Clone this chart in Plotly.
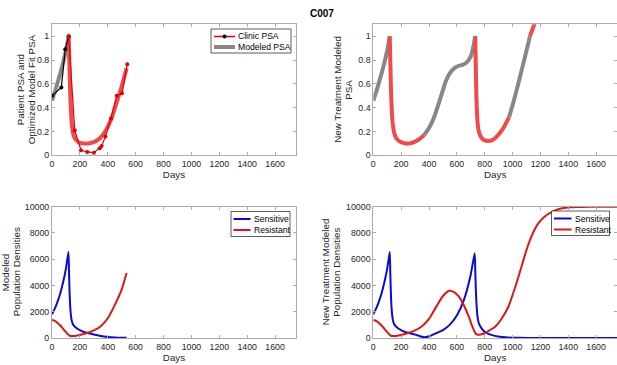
import plotly.graph_objects as go

# ---------------- data ----------------
# Top-left: clinic PSA (pre-treatment black, on-treatment red)
clinic_pre_days = [0, 67, 95, 120]
clinic_pre_psa = [0.50, 0.57, 0.89, 1.0]
clinic_tx_days = [120, 163, 208, 253, 301, 342, 356, 383, 423, 464, 502, 540]
clinic_tx_psa = [1.0, 0.21, 0.042, 0.028, 0.022, 0.059, 0.078, 0.157, 0.31, 0.50, 0.52, 0.765]

# Top-left: modeled PSA fit
fit_off_days = [0, 20, 40, 60, 80, 100, 120]
fit_off_psa = [0.46, 0.53, 0.61, 0.69, 0.78, 0.88, 1.0]
fit_on_days = [120, 124, 128, 132, 136, 140, 145, 150, 160, 175, 200, 230, 260, 300, 340, 370, 400, 430, 460, 500, 535]
fit_on_psa = [1.0, 0.8, 0.62, 0.48, 0.37, 0.29, 0.23, 0.19, 0.15, 0.125, 0.105, 0.10, 0.10, 0.11, 0.14, 0.18, 0.24, 0.32, 0.43, 0.58, 0.73]

# Top-right: new treatment modeled PSA, segments (off = gray, on = red)
nt_seg1_days = [0, 20, 40, 60, 80, 100, 118]
nt_seg1_psa = [0.46, 0.53, 0.61, 0.69, 0.78, 0.88, 1.0]
nt_seg2_days = [118, 122, 126, 130, 135, 140, 150, 160, 175, 200, 230, 260, 300, 340, 365]
nt_seg2_psa = [1.0, 0.8, 0.6, 0.45, 0.33, 0.26, 0.19, 0.155, 0.13, 0.11, 0.10, 0.10, 0.115, 0.145, 0.17]
nt_seg3_days = [365, 400, 430, 460, 490, 520, 550, 580, 610, 640, 670, 700, 720, 732]
nt_seg3_psa = [0.17, 0.23, 0.30, 0.40, 0.51, 0.62, 0.69, 0.73, 0.75, 0.76, 0.78, 0.83, 0.92, 1.0]
nt_seg4_days = [732, 736, 740, 745, 750, 760, 775, 800, 825, 850, 880, 910, 940, 975]
nt_seg4_psa = [1.0, 0.75, 0.5, 0.35, 0.26, 0.19, 0.15, 0.125, 0.12, 0.125, 0.15, 0.19, 0.24, 0.32]
nt_seg5_days = [975, 1000, 1030, 1060, 1090, 1125]
nt_seg5_psa = [0.32, 0.42, 0.55, 0.69, 0.83, 1.0]
nt_seg6_days = [1125, 1150, 1175]
nt_seg6_psa = [1.0, 1.08, 1.16]

# Bottom-left: modeled population densities
pop_days_s = [0, 20, 40, 60, 80, 100, 118, 122, 126, 130, 135, 140, 150, 165, 180, 200, 225, 250, 300, 350, 400, 450, 500, 535]
pop_sens = [1800, 2230, 2770, 3430, 4260, 5280, 6550, 5000, 3500, 2500, 1800, 1400, 1050, 860, 720, 600, 480, 400, 260, 150, 80, 40, 20, 10]
pop_days_r = [0, 20, 40, 60, 80, 100, 120, 130, 150, 175, 200, 250, 300, 350, 400, 450, 500, 535]
pop_res = [1370, 1300, 1150, 950, 700, 450, 220, 150, 150, 180, 230, 380, 580, 900, 1500, 2500, 3700, 4950]

# Bottom-right: new treatment modeled population densities
nt_days_s = [0, 20, 40, 60, 80, 100, 118, 122, 126, 130, 135, 140, 150, 165, 180, 200, 225, 250, 300, 340, 365,
             400, 450, 500, 550, 600, 650, 700, 728, 732, 736, 740, 745, 750, 760, 780, 800, 830, 860, 900, 950,
             1000, 1100, 1200, 1750]
nt_sens = [1800, 2230, 2770, 3430, 4260, 5280, 6550, 5000, 3500, 2500, 1800, 1400, 1050, 860, 720, 600, 480, 400, 260, 120, 50,
           130, 360, 605, 1020, 1710, 2880, 4840, 6450, 5200, 3800, 2800, 2000, 1500, 1050, 700, 480, 300, 200, 110, 50,
           20, 5, 0, 0]
nt_days_r = [0, 20, 40, 60, 80, 100, 120, 130, 150, 175, 200, 250, 300, 350, 400, 450, 500, 544, 580, 615, 650, 686,
             710, 733, 750, 770, 800, 830, 875, 920, 970, 1020, 1064, 1100, 1135, 1180, 1229, 1290, 1348, 1400, 1466,
             1550, 1650, 1750]
nt_res = [1370, 1300, 1150, 950, 700, 450, 220, 150, 150, 180, 230, 380, 580, 900, 1450, 2350, 3200, 3600, 3500, 3150,
          2500, 1620, 900, 360, 250, 270, 360, 550, 860, 1450, 2380, 3900, 5430, 6700, 7720, 8650, 9240, 9650, 9870,
          9940, 9970, 9990, 10000, 10000]

x_ticks = [0, 200, 400, 600, 800, 1000, 1200, 1400, 1600]
psa_ticks = [0, 0.2, 0.4, 0.6, 0.8, 1]
psa_tick_labels = ["0", "0.2", "0.4", "0.6", "0.8", "1"]
pop_ticks = [0, 2000, 4000, 6000, 8000, 10000]
pop_tick_labels = ["0", "2000", "4000", "6000", "8000", "10000"]

legend_psa = ["Clinic PSA", "Modeled PSA"]
legend_pop = ["Sensitive", "Resistant"]
y_titles = [["Patient PSA and", "Optimized Model Fit PSA"],
            ["New Treatment Modeled", "PSA"],
            ["Modeled", "Population Densities"],
            ["New Treatment Modeled", "Population Densities"]]

# ---------------- styles ----------------
GRAY = "#878787"
FIT_RED = "#f24a4a"
RED = "#e60000"
BLUE = "#0a0ad8"
POP_RED = "#e01515"
FONT = "Liberation Sans, Arial, Helvetica, sans-serif"
TXT = "#262626"

fig = go.Figure()

def add(x, y, xa, ya, color, width):
    fig.add_trace(go.Scatter(x=x, y=y, xaxis=xa, yaxis=ya, mode="lines",
                             line=dict(color=color, width=width, shape="spline", smoothing=0.5),
                             showlegend=False, hoverinfo="skip"))

# Top-left
add(fit_off_days, fit_off_psa, "x", "y", GRAY, 4)
add(fit_on_days, fit_on_psa, "x", "y", FIT_RED, 4)
fig.add_trace(go.Scatter(x=clinic_pre_days, y=clinic_pre_psa, xaxis="x", yaxis="y", mode="lines+markers",
                         line=dict(color="black", width=1.2), marker=dict(color="black", size=4),
                         showlegend=False, hoverinfo="skip"))
fig.add_trace(go.Scatter(x=clinic_tx_days, y=clinic_tx_psa, xaxis="x", yaxis="y", mode="lines+markers",
                         line=dict(color=RED, width=1.2), marker=dict(color=RED, size=4),
                         showlegend=False, hoverinfo="skip"))

# Top-right
for d, v, c in [(nt_seg1_days, nt_seg1_psa, GRAY), (nt_seg2_days, nt_seg2_psa, FIT_RED),
                (nt_seg3_days, nt_seg3_psa, GRAY), (nt_seg4_days, nt_seg4_psa, FIT_RED),
                (nt_seg5_days, nt_seg5_psa, GRAY), (nt_seg6_days, nt_seg6_psa, FIT_RED)]:
    add(d, v, "x2", "y2", c, 4)

# Bottom-left
add(pop_days_s, pop_sens, "x3", "y3", BLUE, 2)
add(pop_days_r, pop_res, "x3", "y3", POP_RED, 2)

# Bottom-right
add(nt_days_s, nt_sens, "x4", "y4", BLUE, 2)
add(nt_days_r, nt_res, "x4", "y4", POP_RED, 2)

W, H = 617, 365
def px_x(p): return p / W
def px_y(p): return 1 - p / H

left_dom = [px_x(52), px_x(296)]
right_dom = [px_x(373.3), 1.0]
top_dom = [px_y(155.3), px_y(24.3)]
bot_dom = [px_y(338), px_y(206.7)]

axis_common = dict(showline=True, linecolor="#ababab", linewidth=1, mirror="ticks", ticks="inside",
                   ticklen=3, tickcolor="#ababab", showgrid=False, zeroline=False, automargin=False,
                   tickfont=dict(family=FONT, size=8.8, color=TXT),
                   title_font=dict(family=FONT, size=9.8, color=TXT))

def xax(dom, anchor):
    return dict(axis_common, domain=dom, anchor=anchor, range=[0, 1750], tickvals=x_ticks,
                ticktext=[str(t) for t in x_ticks], title=dict(text="Days", standoff=0))

def yax(dom, anchor, rng, ticks, labels):
    return dict(axis_common, domain=dom, anchor=anchor, range=rng, tickvals=ticks, ticktext=labels)

# ---------- legends drawn as shapes + text ----------
shapes = []
annotations = []

def legend_box(x0, y0, x1, y1):
    shapes.append(dict(type="rect", xref="paper", yref="paper", x0=px_x(x0), x1=px_x(x1),
                       y0=px_y(y1), y1=px_y(y0), line=dict(color="#333333", width=0.8),
                       fillcolor="white", layer="above"))

def legend_line(x0, x1, y, color, width):
    shapes.append(dict(type="line", xref="paper", yref="paper", x0=px_x(x0), x1=px_x(x1),
                       y0=px_y(y), y1=px_y(y), line=dict(color=color, width=width), layer="above"))

def legend_dot(x, y, r, color):
    shapes.append(dict(type="circle", xref="paper", yref="paper", x0=px_x(x - r), x1=px_x(x + r),
                       y0=px_y(y + r), y1=px_y(y - r), line=dict(color=color, width=0),
                       fillcolor=color, layer="above"))

def legend_text(x, y, text):
    annotations.append(dict(text=text, x=px_x(x), y=px_y(y), xref="paper", yref="paper",
                            xanchor="left", yanchor="middle", showarrow=False,
                            font=dict(family=FONT, size=8.6, color="black")))

def y_title(x, y, text):
    annotations.append(dict(text=text, x=px_x(x), y=px_y(y), xref="paper", yref="paper",
                            xanchor="center", yanchor="middle", textangle=-90, showarrow=False,
                            font=dict(family=FONT, size=9.8, color=TXT)))

# top-left legend
legend_box(211, 29, 291, 53)
legend_line(214, 235, 36.5, RED, 1.5)
legend_dot(224.5, 36.5, 2, "black")
legend_text(236, 36.5, legend_psa[0])
legend_line(214, 235, 47, GRAY, 4)
legend_text(236, 47, legend_psa[1])

# bottom-left legend
legend_box(231, 211.5, 290, 236.5)
legend_line(233.5, 250.5, 219, BLUE, 2)
legend_text(251.5, 219, legend_pop[0])
legend_line(233.5, 250.5, 230, POP_RED, 2)
legend_text(251.5, 230, legend_pop[1])

# bottom-right legend
legend_box(551.5, 211, 609.5, 235.5)
legend_line(554, 571.5, 218.5, BLUE, 2)
legend_text(572.5, 218.5, legend_pop[0])
legend_line(554, 571.5, 229.5, POP_RED, 2)
legend_text(572.5, 229.5, legend_pop[1])

# y-axis titles (two lines each)
top_mid = (24.3 + 155.3) / 2
bot_mid = (206.7 + 338) / 2
y_title(20.5, top_mid, y_titles[0][0]); y_title(31.5, top_mid, y_titles[0][1])
y_title(338, top_mid, y_titles[1][0]); y_title(349, top_mid, y_titles[1][1])
y_title(5, bot_mid, y_titles[2][0]); y_title(16, bot_mid, y_titles[2][1])
y_title(325, bot_mid, y_titles[3][0]); y_title(336.5, bot_mid, y_titles[3][1])

annotations.append(dict(text="<b>C007</b>", x=px_x(322), y=px_y(6), xref="paper", yref="paper",
                        showarrow=False, font=dict(family=FONT, size=10, color="black")))

fig.update_layout(
    width=W, height=H, margin=dict(l=0, r=0, t=0, b=0, autoexpand=False),
    paper_bgcolor="white", plot_bgcolor="white", showlegend=False,
    xaxis=xax(left_dom, "y"),
    yaxis=yax(top_dom, "x", [0, 1.1], psa_ticks, psa_tick_labels),
    xaxis2=xax(right_dom, "y2"),
    yaxis2=yax(top_dom, "x2", [0, 1.1], psa_ticks, psa_tick_labels),
    xaxis3=xax(left_dom, "y3"),
    yaxis3=yax(bot_dom, "x3", [0, 10000], pop_ticks, pop_tick_labels),
    xaxis4=xax(right_dom, "y4"),
    yaxis4=yax(bot_dom, "x4", [0, 10000], pop_ticks, pop_tick_labels),
    shapes=shapes,
    annotations=annotations,
)

fig.write_html("out.html", config={"displayModeBar": False},
               post_script="document.body.style.margin='0';document.body.style.overflow='hidden';")
